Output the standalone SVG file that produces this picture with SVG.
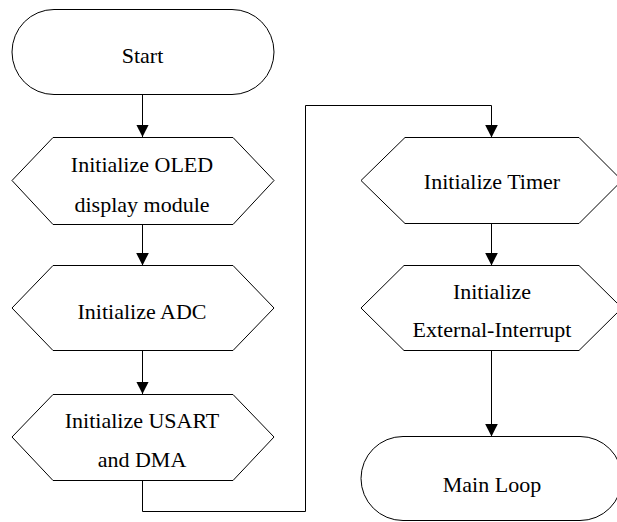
<svg xmlns="http://www.w3.org/2000/svg" width="617" height="522" viewBox="0 0 617 522">
  <style>
    .shape { fill: #ffffff; stroke: #000000; stroke-width: 1; }
    .label { font-family: 'Liberation Serif', 'DejaVu Serif', serif; font-size: 22px; fill: #000000; text-anchor: middle; }
    .flow { fill: none; stroke: #000000; stroke-width: 1; }
  </style>
  <defs>
    <marker id="arrow" markerUnits="userSpaceOnUse" markerWidth="13" markerHeight="13" refX="12.5" refY="6.3" orient="auto">
      <path d="M0,0 L12.5,6.3 L0,12.6 Z" fill="#000000"/>
    </marker>
  </defs>
  <rect x="0" y="0" width="617" height="522" fill="#ffffff"/>

  <!-- connectors -->
  <g id="connectors">
    <path class="flow" d="M142.5 94.5 V137" marker-end="url(#arrow)"/>
    <path class="flow" d="M142.5 224.5 V265.5" marker-end="url(#arrow)"/>
    <path class="flow" d="M142.5 350.5 V394" marker-end="url(#arrow)"/>
    <path class="flow" d="M142.5 480.5 V511.5 H305.5 V105.5 H491.5 V137.5" marker-end="url(#arrow)"/>
    <path class="flow" d="M491.5 223.5 V265.5" marker-end="url(#arrow)"/>
    <path class="flow" d="M491.5 350.5 V436.5" marker-end="url(#arrow)"/>
  </g>

  <!-- left column -->
  <g id="start">
    <rect class="shape" x="12" y="9.5" width="262" height="85" rx="42" ry="42.5"/>
    <text class="label" font-family="Liberation Serif, serif" x="142.5" y="62.7">Start</text>
  </g>
  <g id="init-oled">
    <polygon class="shape" points="12,180.5 53,137.5 233,137.5 274,180.5 233,224.5 53,224.5"/>
    <text class="label" x="142" y="172.3">Initialize OLED</text>
    <text class="label" x="142" y="211.5">display module</text>
  </g>
  <g id="init-adc">
    <polygon class="shape" points="12,308 53,265.5 233,265.5 274,308 233,350.5 53,350.5"/>
    <text class="label" x="142" y="319.3">Initialize ADC</text>
  </g>
  <g id="init-usart">
    <polygon class="shape" points="12,437 53,394.5 233,394.5 274,437 233,480.5 53,480.5"/>
    <text class="label" x="142" y="427.7">Initialize USART</text>
    <text class="label" x="142" y="466.7">and DMA</text>
  </g>

  <!-- right column -->
  <g id="init-timer">
    <polygon class="shape" points="361,180.5 405,137.5 579,137.5 622,180.5 579,223.5 405,223.5"/>
    <text class="label" x="492" y="189.3">Initialize Timer</text>
  </g>
  <g id="init-exti">
    <polygon class="shape" points="361,308 404,265.5 579,265.5 622,308 579,350.5 404,350.5"/>
    <text class="label" x="492" y="299.3">Initialize</text>
    <text class="label" x="492" y="337.3">External-Interrupt</text>
  </g>
  <g id="main-loop">
    <rect class="shape" x="361" y="436.5" width="261" height="84" rx="42" ry="42"/>
    <text class="label" x="492" y="491.7">Main Loop</text>
  </g>
</svg>
